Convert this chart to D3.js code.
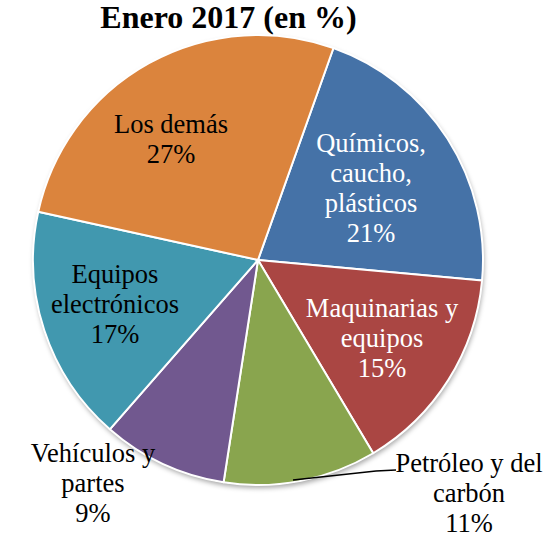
<!DOCTYPE html>
<html><head><meta charset="utf-8">
<script src="https://cdn.jsdelivr.net/npm/d3@7"></script>
<style>body{margin:0;background:#fff}svg{display:block}</style>
</head><body>
<div id="chart"></div>
<script>
const categories = ["Químicos, caucho, plásticos","Maquinarias y equipos","Petróleo y del carbón","Vehículos y partes","Equipos electrónicos","Los demás"];
const labelLines = [["Químicos,","caucho,","plásticos"],["Maquinarias y","equipos"],["Petróleo y del","carbón"],["Vehículos y","partes"],["Equipos","electrónicos"],["Los demás"]];
const values = [21, 15, 11, 9, 17, 27];
const colors = ["#4572A7","#AA4643","#89A54E","#71588F","#4198AF","#DB843D"];
const title = "Enero 2017 (en %)";

// layout: label baselines of first line relative to pie center
const labelLayout = [
  {dx:113, dy:-108, fill:"#fff"},
  {dx:124, dy:57, fill:"#fff"},
  {dx:211, dy:212, fill:"#000"},
  {dx:-165, dy:202, fill:"#000"},
  {dx:-143, dy:23, fill:"#000"},
  {dx:-87, dy:-127, fill:"#000"}
];

const FONT = "'Liberation Serif','Times New Roman',Times,serif";
const W=550,H=537,cx=258,cy=260,R=225;
const svg=d3.select("#chart").append("svg").attr("width",W).attr("height",H);
const defs=svg.append("defs");
const f=defs.append("filter").attr("id","sh").attr("x","-10%").attr("y","-10%").attr("width","120%").attr("height","125%");
f.append("feDropShadow").attr("dx",1).attr("dy",3).attr("stdDeviation",2.5).attr("flood-color","#000").attr("flood-opacity",0.35);

svg.append("text").attr("x",228.5).attr("y",28).attr("text-anchor","middle")
  .attr("font-family",FONT).attr("font-weight","bold").attr("font-size",32).text(title);

const start = 19.6*Math.PI/180;
const pie=d3.pie().sort(null).startAngle(start).endAngle(start+2*Math.PI)(values);
const arc=d3.arc().innerRadius(0).outerRadius(R);
const g=svg.append("g").attr("transform",`translate(${cx},${cy})`);
g.append("circle").attr("r",R).attr("fill","#fff").attr("filter","url(#sh)");
g.selectAll("path").data(pie).join("path").attr("d",arc)
  .attr("fill",(d,i)=>colors[i]).attr("stroke","#fff").attr("stroke-width",2).attr("stroke-linejoin","round");

// leader line for Petróleo
g.append("polyline").attr("points",[[35,220],[118,211],[138,210]].map(p=>p.join(",")).join(" "))
  .attr("fill","none").attr("stroke","#000").attr("stroke-width",1.4);

const lh=30;
pie.forEach((d,i)=>{
  const L=labelLayout[i];
  const t=g.append("text").attr("text-anchor","middle").attr("font-family",FONT)
    .attr("font-size",26.5).attr("fill",L.fill);
  const lines=[...labelLines[i], values[i]+"%"];
  lines.forEach((s,k)=>{
    t.append("tspan").attr("x",L.dx).attr("y",L.dy+k*lh).text(s);
  });
});
</script>
</body></html>
